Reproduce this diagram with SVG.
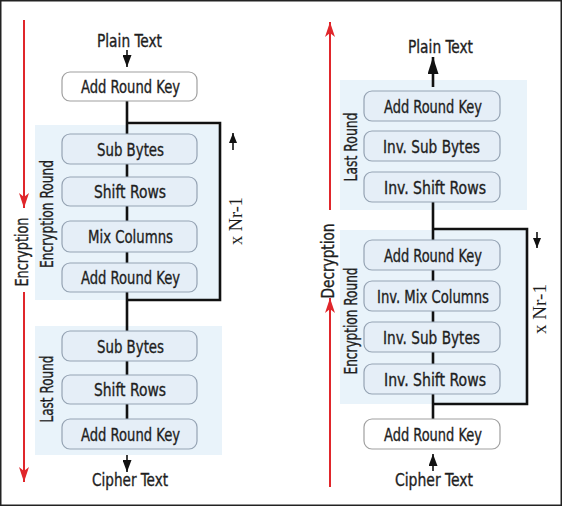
<svg xmlns="http://www.w3.org/2000/svg" width="563" height="507" viewBox="0 0 563 507">
<defs>
<marker id="ah" viewBox="0 0 12 9" refX="12" refY="4.5" markerWidth="12" markerHeight="9" markerUnits="userSpaceOnUse" orient="auto"><path d="M0,0 L12,4.5 L0,9 z" fill="#111"/></marker>
<marker id="as" viewBox="0 0 10 8" refX="10" refY="4" markerWidth="10" markerHeight="8" markerUnits="userSpaceOnUse" orient="auto"><path d="M0,0 L10,4 L0,8 z" fill="#111"/></marker>
<marker id="ab" viewBox="0 0 17 11" refX="17" refY="5.5" markerWidth="17" markerHeight="11" markerUnits="userSpaceOnUse" orient="auto"><path d="M0,0 L17,5.5 L0,11 z" fill="#111"/></marker>
<marker id="rh" viewBox="0 0 15 10" refX="15" refY="5" markerWidth="15" markerHeight="10" markerUnits="userSpaceOnUse" orient="auto"><path d="M0,0 L15,5 L0,10 L4,5 z" fill="#e0262b"/></marker>
</defs>
<style>
.bg{fill:#e9f3fa;}
.box{fill:#e5eef7;stroke:#95a3b3;stroke-width:1.2;}
.wbox{fill:#ffffff;stroke:#a0a0a0;stroke-width:1.2;}
.t{font-family:"DejaVu Sans Condensed","DejaVu Sans",sans-serif;font-stretch:condensed;font-size:18px;fill:#1e1e1e;stroke:#1e1e1e;stroke-width:0.35;text-anchor:middle;}
.s{font-family:"Liberation Serif",serif;font-size:19px;fill:#1e1e1e;text-anchor:middle;}
.ln{stroke:#111;stroke-width:2.6;fill:none;}
.th{stroke:#111;stroke-width:1.6;fill:none;}
.red{stroke:#e0262b;stroke-width:2;fill:none;}
</style>
<rect x="0.75" y="0.75" width="560.5" height="504.5" fill="#ffffff" stroke="#222" stroke-width="1.5"/>
<g id="regions">
<rect class="bg" x="35" y="125" width="186" height="175"/>
<rect class="bg" x="35" y="326" width="187" height="129"/>
<rect class="bg" x="340" y="80" width="187" height="130"/>
<rect class="bg" x="340" y="230" width="187" height="174"/>
</g>
<g id="connectors">
<line class="ln" x1="127" y1="101" x2="127" y2="419"/>
<polyline class="ln" points="127,123 220,123 220,300 127,300"/>
<line class="th" x1="127" y1="50" x2="127" y2="67" marker-end="url(#ah)"/>
<line class="th" x1="127" y1="455" x2="127" y2="472" marker-end="url(#ah)"/>
<line class="th" x1="233" y1="150" x2="233" y2="133" marker-end="url(#as)"/>
<line class="ln" x1="433" y1="202" x2="433" y2="419"/>
<line class="ln" x1="433" y1="87" x2="433" y2="57" marker-end="url(#ab)"/>
<polyline class="ln" points="433,229 527,229 527,404 433,404"/>
<line class="th" x1="433" y1="471" x2="433" y2="454" marker-end="url(#ah)"/>
<line class="th" x1="537" y1="232" x2="537" y2="248" marker-end="url(#as)"/>
<line class="red" x1="24" y1="20" x2="24" y2="208" marker-end="url(#rh)"/>
<line class="red" x1="24" y1="292" x2="24" y2="482" marker-end="url(#rh)"/>
<line class="red" x1="330" y1="210" x2="330" y2="22" marker-end="url(#rh)"/>
<line class="red" x1="330" y1="487" x2="330" y2="298" marker-end="url(#rh)"/>
</g>
<g id="labels">
<text class="t" x="129.5" y="47" textLength="65" lengthAdjust="spacingAndGlyphs">Plain Text</text>
<text class="t" x="130" y="486" textLength="76" lengthAdjust="spacingAndGlyphs">Cipher Text</text>
<text class="t" x="440.5" y="53" textLength="65" lengthAdjust="spacingAndGlyphs">Plain Text</text>
<text class="t" x="434" y="486" textLength="78" lengthAdjust="spacingAndGlyphs">Cipher Text</text>
<text class="t" transform="translate(28,252) rotate(-90)" textLength="69" lengthAdjust="spacingAndGlyphs">Encryption</text>
<text class="t" transform="translate(53,214) rotate(-90)" textLength="108" lengthAdjust="spacingAndGlyphs">Encryption Round</text>
<text class="t" transform="translate(53,389) rotate(-90)" textLength="67" lengthAdjust="spacingAndGlyphs">Last Round</text>
<text class="t" transform="translate(334,261) rotate(-90)" textLength="75" lengthAdjust="spacingAndGlyphs">Decryption</text>
<text class="t" transform="translate(357,147) rotate(-90)" textLength="69" lengthAdjust="spacingAndGlyphs">Last Round</text>
<text class="t" transform="translate(357,321) rotate(-90)" textLength="107" lengthAdjust="spacingAndGlyphs">Encryption Round</text>
<text class="s" transform="translate(242,221) rotate(-90)" textLength="48" lengthAdjust="spacingAndGlyphs">x Nr-1</text>
<text class="s" transform="translate(546,309) rotate(-90)" textLength="50" lengthAdjust="spacingAndGlyphs">x Nr-1</text>
</g>
<g id="enc-ark0"><rect class="wbox" x="62" y="72" width="135" height="29" rx="8"/><text class="t" x="130.5" y="93" textLength="99" lengthAdjust="spacingAndGlyphs">Add Round Key</text></g>
<g id="enc-sb"><rect class="box" x="62" y="134" width="135" height="30" rx="8"/><text class="t" x="130.5" y="155.5" textLength="67" lengthAdjust="spacingAndGlyphs">Sub Bytes</text></g>
<g id="enc-sr"><rect class="box" x="62" y="177" width="135" height="29" rx="8"/><text class="t" x="130" y="198" textLength="72" lengthAdjust="spacingAndGlyphs">Shift Rows</text></g>
<g id="enc-mc"><rect class="box" x="62" y="221" width="135" height="31" rx="8"/><text class="t" x="130.5" y="243" textLength="85" lengthAdjust="spacingAndGlyphs">Mix Columns</text></g>
<g id="enc-ark1"><rect class="box" x="62" y="263" width="135" height="29" rx="8"/><text class="t" x="130.5" y="284" textLength="99" lengthAdjust="spacingAndGlyphs">Add Round Key</text></g>
<g id="enc-sb2"><rect class="box" x="62" y="331" width="135" height="30" rx="8"/><text class="t" x="130.5" y="352.5" textLength="67" lengthAdjust="spacingAndGlyphs">Sub Bytes</text></g>
<g id="enc-sr2"><rect class="box" x="62" y="375" width="135" height="29" rx="8"/><text class="t" x="130" y="396" textLength="72" lengthAdjust="spacingAndGlyphs">Shift Rows</text></g>
<g id="enc-ark2"><rect class="box" x="62" y="419" width="135" height="30" rx="8"/><text class="t" x="130.5" y="440.5" textLength="99" lengthAdjust="spacingAndGlyphs">Add Round Key</text></g>
<g id="dec-ark2"><rect class="box" x="364" y="91" width="136" height="30" rx="8"/><text class="t" x="433" y="112.5" textLength="98" lengthAdjust="spacingAndGlyphs">Add Round Key</text></g>
<g id="dec-isb2"><rect class="box" x="364" y="131" width="136" height="30" rx="8"/><text class="t" x="431.5" y="152.5" textLength="97" lengthAdjust="spacingAndGlyphs">Inv. Sub Bytes</text></g>
<g id="dec-isr2"><rect class="box" x="364" y="172" width="136" height="30" rx="8"/><text class="t" x="435" y="193.5" textLength="102" lengthAdjust="spacingAndGlyphs">Inv. Shift Rows</text></g>
<g id="dec-ark1"><rect class="box" x="364" y="240" width="136" height="30" rx="8"/><text class="t" x="433" y="261.5" textLength="98" lengthAdjust="spacingAndGlyphs">Add Round Key</text></g>
<g id="dec-imc"><rect class="box" x="364" y="281" width="136" height="30" rx="8"/><text class="t" x="433" y="302.5" textLength="112" lengthAdjust="spacingAndGlyphs">Inv. Mix Columns</text></g>
<g id="dec-isb"><rect class="box" x="364" y="322" width="136" height="30" rx="8"/><text class="t" x="431.5" y="343.5" textLength="97" lengthAdjust="spacingAndGlyphs">Inv. Sub Bytes</text></g>
<g id="dec-isr"><rect class="box" x="364" y="364" width="136" height="30" rx="8"/><text class="t" x="435" y="385.5" textLength="102" lengthAdjust="spacingAndGlyphs">Inv. Shift Rows</text></g>
<g id="dec-ark0"><rect class="wbox" x="364" y="419" width="136" height="30" rx="8"/><text class="t" x="433" y="440.5" textLength="98" lengthAdjust="spacingAndGlyphs">Add Round Key</text></g>
</svg>
